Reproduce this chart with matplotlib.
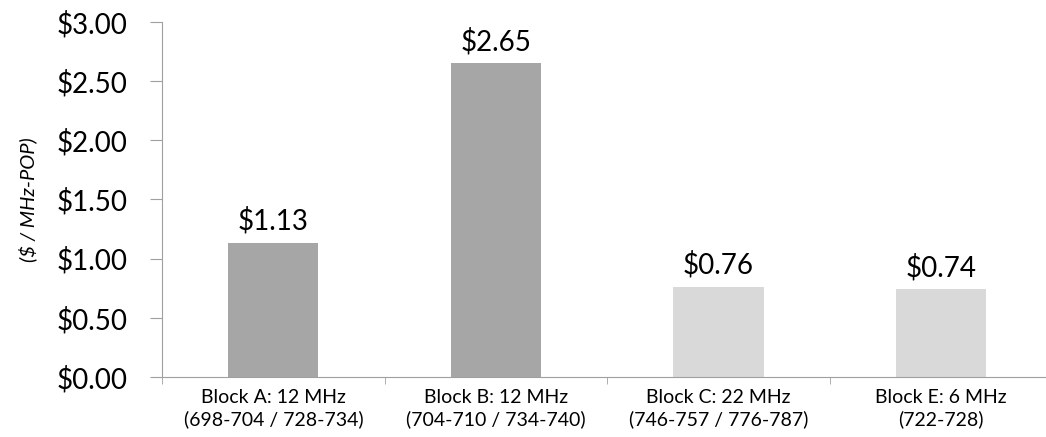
import matplotlib
matplotlib.use("Agg")
import matplotlib.pyplot as plt
from matplotlib.ticker import FuncFormatter, FixedLocator, NullFormatter

# data
categories = ["Block A: 12 MHz\n(698-704 / 728-734)",
              "Block B: 12 MHz\n(704-710 / 734-740)",
              "Block C: 22 MHz\n(746-757 / 776-787)",
              "Block E: 6 MHz\n(722-728)"]
prices = [1.13, 2.65, 0.76, 0.74]
bar_colors = ["#a6a6a6", "#a6a6a6", "#d9d9d9", "#d9d9d9"]

plt.rcParams['font.family'] = ['Lato', 'DejaVu Sans']

fig = plt.figure(figsize=(10.46, 4.37), dpi=100)
ax = fig.add_axes([0.155, 0.1373, 0.851, 0.8124])

x = list(range(len(categories)))
ax.bar(x, prices, width=0.405, color=bar_colors)

for xi, v in zip(x, prices):
    ax.annotate("${:.2f}".format(v), (xi, v), xytext=(0, 6), textcoords="offset points",
                ha="center", va="bottom", fontsize=20, color="#000000")

ax.set_xlim(-0.5, len(categories) - 0.5)
ax.set_ylim(0, 3)
ax.set_yticks([0, 0.5, 1, 1.5, 2, 2.5, 3])
ax.yaxis.set_major_formatter(FuncFormatter(lambda v, p: "${:.2f}".format(v)))
ax.tick_params(axis="y", labelsize=20, length=9, color="#a0a0a0", pad=16)

ax.set_xticks(x)
ax.set_xticklabels(categories, fontsize=14, linespacing=1.25)
ax.tick_params(axis="x", length=0, pad=9)
ax.xaxis.set_minor_locator(FixedLocator([i - 0.5 for i in range(len(categories) + 1)]))
ax.xaxis.set_minor_formatter(NullFormatter())
ax.tick_params(axis="x", which="minor", length=5, color="#a0a0a0")

for s in ["top", "right"]:
    ax.spines[s].set_visible(False)
for s in ["left", "bottom"]:
    ax.spines[s].set_color("#a0a0a0")

ax.set_ylabel("($ / MHz-POP)", fontsize=14.5, style="italic", labelpad=14)

fig.savefig("out.png", dpi=100)
